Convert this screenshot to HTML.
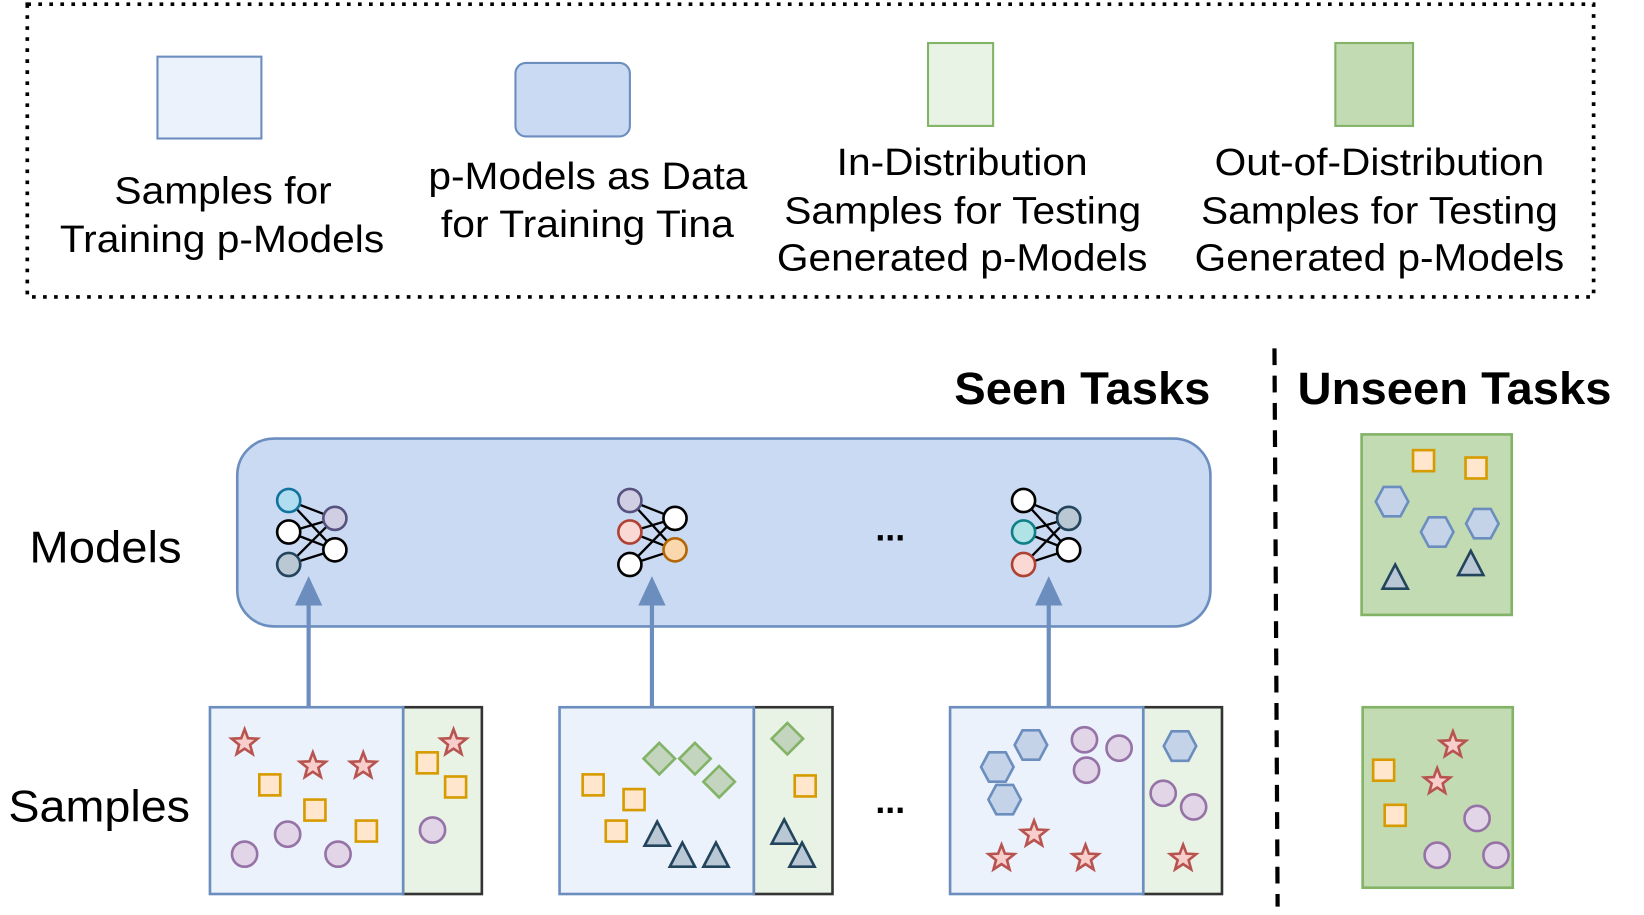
<!DOCTYPE html>
<html><head><meta charset="utf-8"><style>
html,body{margin:0;padding:0;background:#fff;}
svg{display:block;}
text{font-family:"Liberation Sans",Arial,sans-serif;}
</style></head><body>
<svg width="1644" height="915" viewBox="0 0 1566 872" preserveAspectRatio="none" xmlns="http://www.w3.org/2000/svg">
<defs>
<rect id="sq" x="-10" y="-10" width="20" height="20" fill="#ffe6cc" stroke="#d79b00" stroke-width="2.5"/>
<circle id="ci" r="12" fill="#e1d5e7" stroke="#9673a6" stroke-width="2.5"/>
<polygon id="st" points="0,-13 3.23,-4.45 12.36,-4.02 5.23,1.7 7.64,10.52 0,5.5 -7.64,10.52 -5.23,1.7 -12.36,-4.02 -3.23,-4.45" fill="#f8cecc" stroke="#b85450" stroke-width="2.5"/>
<polygon id="hx" points="-15.5,0 -8,-14 8,-14 15.5,0 8,14 -8,14" fill="#c5d3e8" stroke="#6c8ebf" stroke-width="2.5"/>
<polygon id="tr" points="0,-13 12,10 -12,10" fill="#b9c8d4" stroke="#23445d" stroke-width="2.5"/>
<polygon id="dm" points="0,-15 15,0 0,15 -15,0" fill="#c3d5bf" stroke="#82b366" stroke-width="2.5"/>
</defs>

<!-- legend -->
<rect x="26" y="4" width="1492" height="279" fill="none" stroke="#000" stroke-width="3.5" stroke-dasharray="3.5 7"/>
<rect x="150" y="54" width="99" height="78" fill="#ebf2fc" stroke="#6c8ebf" stroke-width="2"/>
<rect x="491" y="60" width="109" height="70" rx="10" fill="#c9daf2" stroke="#6c8ebf" stroke-width="2"/>
<rect x="884" y="41" width="62" height="79" fill="#e8f3e6" stroke="#82b366" stroke-width="2"/>
<rect x="1272" y="41" width="74" height="79" fill="#c2dbb3" stroke="#82b366" stroke-width="2"/>
<g font-size="36" fill="#000" lengthAdjust="spacingAndGlyphs">
<text x="109" y="194" textLength="207" lengthAdjust="spacingAndGlyphs">Samples for</text>
<text x="57" y="240" textLength="309" lengthAdjust="spacingAndGlyphs">Training p-Models</text>
<text x="408" y="180" textLength="304" lengthAdjust="spacingAndGlyphs">p-Models as Data</text>
<text x="420" y="226" textLength="279" lengthAdjust="spacingAndGlyphs">for Training Tina</text>
<text x="797" y="167" textLength="239" lengthAdjust="spacingAndGlyphs">In-Distribution</text>
<text x="747" y="213" textLength="340" lengthAdjust="spacingAndGlyphs">Samples for Testing</text>
<text x="740" y="258" textLength="353" lengthAdjust="spacingAndGlyphs">Generated p-Models</text>
<text x="1157" y="167" textLength="314" lengthAdjust="spacingAndGlyphs">Out-of-Distribution</text>
<text x="1144" y="213" textLength="340" lengthAdjust="spacingAndGlyphs">Samples for Testing</text>
<text x="1138" y="258" textLength="352" lengthAdjust="spacingAndGlyphs">Generated p-Models</text>
</g>

<!-- headings -->
<text x="909" y="385" font-size="43" font-weight="bold" textLength="244" lengthAdjust="spacingAndGlyphs">Seen Tasks</text>
<text x="1236" y="385" font-size="43" font-weight="bold" textLength="299" lengthAdjust="spacingAndGlyphs">Unseen Tasks</text>
<line x1="1214" y1="332" x2="1217" y2="864" stroke="#000" stroke-width="4" stroke-dasharray="16 10"/>
<text x="28" y="536" font-size="42" textLength="145" lengthAdjust="spacingAndGlyphs">Models</text>
<text x="8" y="783" font-size="42" textLength="173" lengthAdjust="spacingAndGlyphs">Samples</text>

<!-- models box -->
<rect x="226" y="418" width="927" height="179" rx="35" fill="#c9daf2" stroke="#6c8ebf" stroke-width="2.5"/>
<text x="848" y="515" font-size="34" font-weight="bold" text-anchor="middle">...</text>
<text x="848" y="775" font-size="34" font-weight="bold" text-anchor="middle">...</text>

<!-- networks -->
<g stroke="#000" stroke-width="2.2">
<path d="M275 477L319 494M275 477L319 524M275 507L319 494M275 507L319 524M275 538L319 494M275 538L319 524"/>
<path d="M600 477L643 494M600 477L643 524M600 507L643 494M600 507L643 524M600 538L643 494M600 538L643 524"/>
<path d="M975 477L1018 494M975 477L1018 524M975 507L1018 494M975 507L1018 524M975 538L1018 494M975 538L1018 524"/>
</g>
<g stroke-width="2.5">
<circle cx="275" cy="477" r="11" fill="#b1ddf0" stroke="#10739e"/>
<circle cx="275" cy="507" r="11" fill="#fff" stroke="#000"/>
<circle cx="275" cy="538" r="11" fill="#bac8d3" stroke="#23445d"/>
<circle cx="319" cy="494" r="11" fill="#d0cee2" stroke="#56517e"/>
<circle cx="319" cy="524" r="11" fill="#fff" stroke="#000"/>
<circle cx="600" cy="477" r="11" fill="#d0cee2" stroke="#56517e"/>
<circle cx="600" cy="507" r="11" fill="#fad9d5" stroke="#ae4132"/>
<circle cx="600" cy="538" r="11" fill="#fff" stroke="#000"/>
<circle cx="643" cy="494" r="11" fill="#fff" stroke="#000"/>
<circle cx="643" cy="524" r="11" fill="#fad7ac" stroke="#b46504"/>
<circle cx="975" cy="477" r="11" fill="#fff" stroke="#000"/>
<circle cx="975" cy="507" r="11" fill="#b0e3e6" stroke="#0e8088"/>
<circle cx="975" cy="538" r="11" fill="#fad9d5" stroke="#ae4132"/>
<circle cx="1018" cy="494" r="11" fill="#bac8d3" stroke="#23445d"/>
<circle cx="1018" cy="524" r="11" fill="#fff" stroke="#000"/>
</g>

<!-- arrows -->
<g stroke="#6c8ebf" stroke-width="4" fill="#6c8ebf">
<line x1="294" y1="674" x2="294" y2="570"/>
<line x1="621" y1="674" x2="621" y2="570"/>
<line x1="999" y1="674" x2="999" y2="570"/>
</g>
<g fill="#6c8ebf">
<polygon points="294,549 281,577 307,577"/>
<polygon points="621,549 608,577 634,577"/>
<polygon points="999,549 986,577 1012,577"/>
</g>

<!-- sample boxes -->
<g stroke-width="2.5">
<rect x="384" y="674" width="75" height="178" fill="#e8f3e6" stroke="#333"/>
<rect x="200" y="674" width="184" height="178" fill="#ebf2fc" stroke="#6c8ebf"/>
<rect x="718" y="674" width="75" height="178" fill="#e8f3e6" stroke="#333"/>
<rect x="533" y="674" width="185" height="178" fill="#ebf2fc" stroke="#6c8ebf"/>
<rect x="1089" y="674" width="75" height="178" fill="#e8f3e6" stroke="#333"/>
<rect x="905" y="674" width="184" height="178" fill="#ebf2fc" stroke="#6c8ebf"/>
<rect x="1297" y="414" width="143" height="172" fill="#c2dbb3" stroke="#82b366"/>
<rect x="1298" y="674" width="143" height="172" fill="#c2dbb3" stroke="#82b366"/>
</g>

<!-- box1 -->
<use href="#st" x="233" y="708"/><use href="#st" x="298" y="730"/><use href="#st" x="346" y="730"/>
<use href="#sq" x="257" y="748"/><use href="#sq" x="300" y="772"/><use href="#sq" x="349" y="792"/>
<use href="#ci" x="233" y="814"/><use href="#ci" x="274" y="795"/><use href="#ci" x="322" y="814"/>
<use href="#sq" x="407" y="727"/><use href="#sq" x="434" y="750"/><use href="#st" x="432" y="708"/><use href="#ci" x="412" y="791"/>
<!-- box2 -->
<use href="#sq" x="565" y="748"/><use href="#sq" x="604" y="762"/><use href="#sq" x="587" y="792"/>
<use href="#dm" x="628" y="723"/><use href="#dm" x="662" y="723"/><use href="#dm" x="685" y="745"/>
<use href="#tr" x="626" y="796"/><use href="#tr" x="650" y="816"/><use href="#tr" x="682" y="816"/>
<use href="#dm" x="750" y="704"/><use href="#sq" x="767" y="749"/><use href="#tr" x="747" y="794"/><use href="#tr" x="764" y="816"/>
<!-- box3 -->
<use href="#hx" x="982" y="710"/><use href="#hx" x="950" y="731"/><use href="#hx" x="957" y="762"/>
<use href="#ci" x="1033" y="705"/><use href="#ci" x="1066" y="713"/><use href="#ci" x="1035" y="734"/>
<use href="#st" x="985" y="795"/><use href="#st" x="954" y="818"/><use href="#st" x="1034" y="818"/>
<use href="#hx" x="1124" y="711"/><use href="#ci" x="1108" y="756"/><use href="#ci" x="1137" y="769"/><use href="#st" x="1127" y="818"/>
<!-- unseen -->
<use href="#sq" x="1356" y="439"/><use href="#sq" x="1406" y="446"/>
<use href="#hx" x="1326" y="478"/><use href="#hx" x="1369" y="507"/><use href="#hx" x="1412" y="499"/>
<use href="#tr" x="1329" y="551"/><use href="#tr" x="1401" y="538"/>
<use href="#st" x="1384" y="710"/><use href="#st" x="1369" y="745"/>
<use href="#sq" x="1318" y="734"/><use href="#sq" x="1329" y="777"/>
<use href="#ci" x="1407" y="780"/><use href="#ci" x="1369" y="815"/><use href="#ci" x="1425" y="815"/>
</svg>
</body></html>
